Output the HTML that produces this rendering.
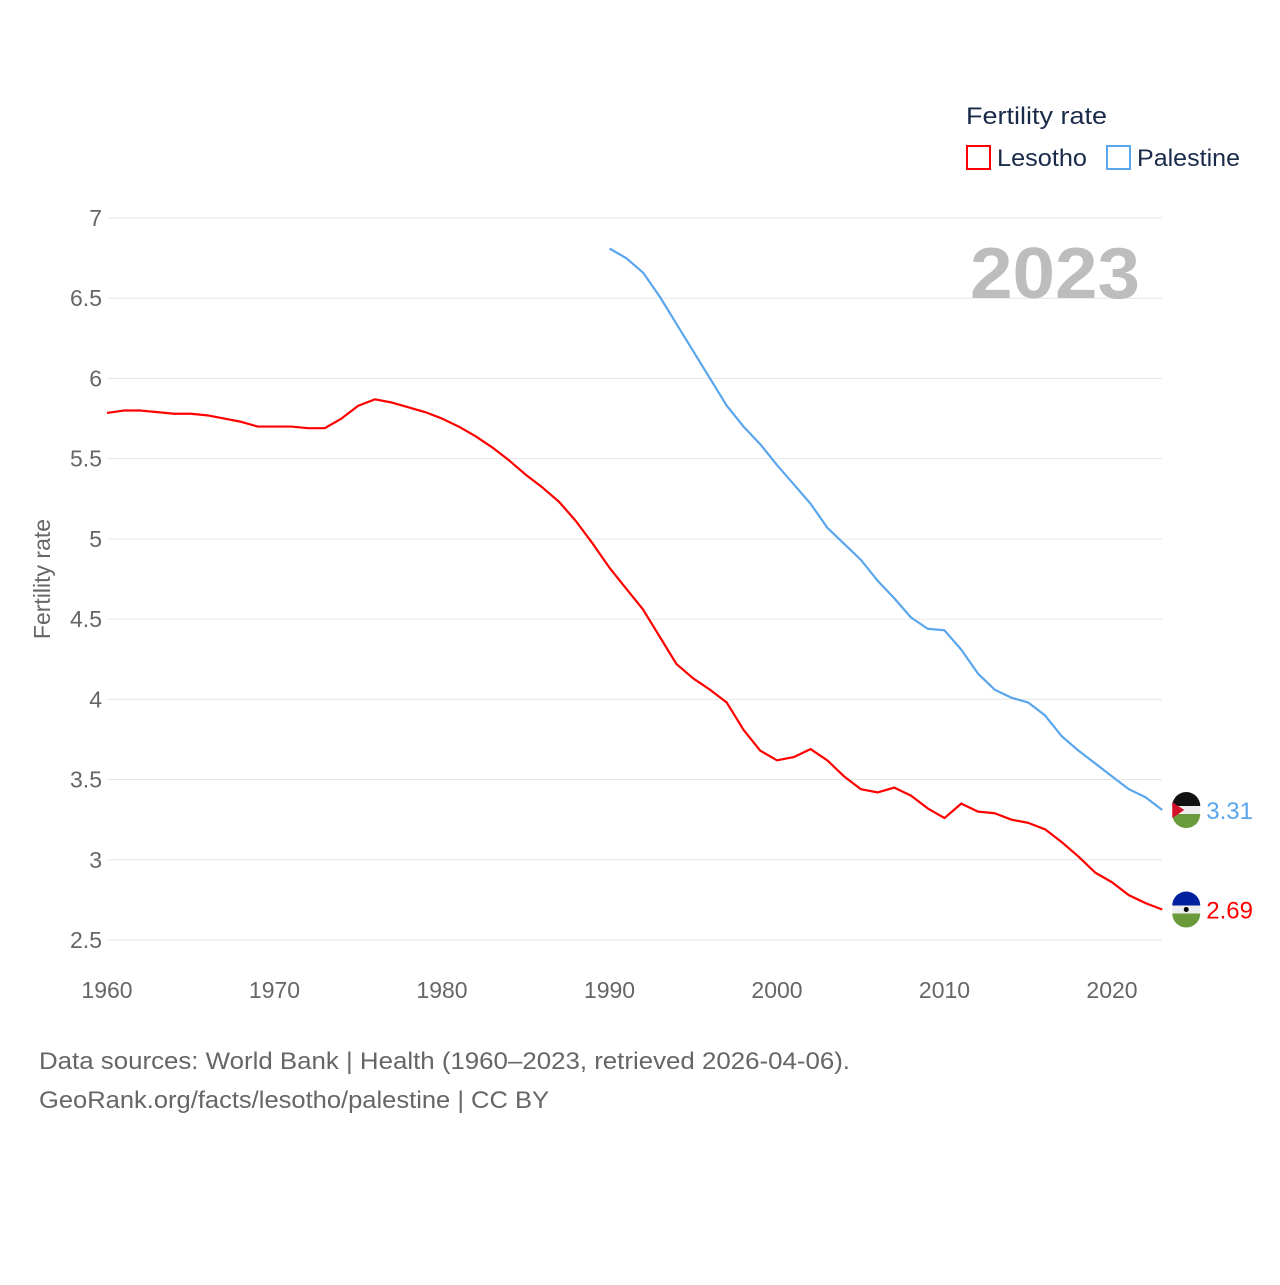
<!DOCTYPE html>
<html><head><meta charset="utf-8"><style>
body{margin:0;background:#fff;}
svg text{font-family:"Liberation Sans",sans-serif;}
</style></head><body>
<svg id="chart" width="1280" height="1280" xmlns="http://www.w3.org/2000/svg">
<rect width="1280" height="1280" fill="#fff"/>
<g id="grid"></g>
<g id="yticks"></g>
<g id="xticks"></g>
<text x="970" y="298" font-size="72" font-weight="bold" fill="#bdbdbd" textLength="170" lengthAdjust="spacingAndGlyphs">2023</text>
<text transform="translate(50,579) rotate(-90)" text-anchor="middle" font-size="23" fill="#666">Fertility rate</text>
<g id="series"></g>
<text x="966" y="124" font-size="24" fill="#1a2b4a" textLength="141" lengthAdjust="spacingAndGlyphs">Fertility rate</text>
<g><rect x="967" y="146" width="23" height="23" fill="none" stroke="#f00" stroke-width="2"/><text x="997" y="166" font-size="24" fill="#1a2b4a" textLength="90" lengthAdjust="spacingAndGlyphs">Lesotho</text></g>
<g><rect x="1107" y="146" width="23" height="23" fill="none" stroke="#5aa6ec" stroke-width="2"/><text x="1137" y="166" font-size="24" fill="#1a2b4a" textLength="103" lengthAdjust="spacingAndGlyphs">Palestine</text></g>
<text x="39" y="1069" font-size="24" fill="#666" textLength="811" lengthAdjust="spacingAndGlyphs">Data sources: World Bank | Health (1960–2023, retrieved 2026-04-06).</text>
<text x="39" y="1108" font-size="24" fill="#666" textLength="510" lengthAdjust="spacingAndGlyphs">GeoRank.org/facts/lesotho/palestine | CC BY</text>
</svg>
<script>
const yTicks=[2.5,3,3.5,4,4.5,5,5.5,6,6.5,7];
const xTicks=[1960,1970,1980,1990,2000,2010,2020];
const lesothoYears=[];for(let y=1960;y<=2023;y++)lesothoYears.push(y);
const lesothoValues=[5.785,5.80,5.80,5.79,5.78,5.78,5.77,5.75,5.73,5.70,5.70,5.70,5.69,5.69,5.75,5.83,5.87,5.85,5.82,5.79,5.75,5.70,5.64,5.57,5.49,5.40,5.32,5.23,5.11,4.97,4.82,4.69,4.56,4.39,4.22,4.13,4.06,3.98,3.81,3.68,3.62,3.64,3.69,3.62,3.52,3.44,3.42,3.45,3.40,3.32,3.26,3.35,3.30,3.29,3.25,3.23,3.19,3.11,3.02,2.92,2.86,2.78,2.73,2.69];
const palestineYears=[];for(let y=1990;y<=2023;y++)palestineYears.push(y);
const palestineValues=[6.81,6.75,6.66,6.51,6.34,6.17,6.00,5.83,5.70,5.59,5.46,5.34,5.22,5.07,4.97,4.87,4.74,4.63,4.51,4.44,4.43,4.31,4.16,4.06,4.01,3.98,3.90,3.77,3.68,3.60,3.52,3.44,3.39,3.31];
const X=v=>107+(v-1960)*(1112-107)/60;
const Y=v=>218+(7-v)*(940-218)/4.5;
const NS="http://www.w3.org/2000/svg";
function mk(t,a,p){const e=document.createElementNS(NS,t);for(const k in a)e.setAttribute(k,a[k]);p.appendChild(e);return e;}
const grid=document.getElementById('grid'),yt=document.getElementById('yticks'),xt=document.getElementById('xticks'),ser=document.getElementById('series');
yTicks.forEach(v=>{
 const l=mk('line',{x1:107,x2:1162,y1:Y(v),y2:Y(v),stroke:'#e6e6e6','stroke-width':1},grid);
 
 
 const t=mk('text',{x:102,y:Y(v)+8,'text-anchor':'end','font-size':23,fill:'#666'},yt);t.textContent=v;
 
 
});
xTicks.forEach(v=>{
 const t=mk('text',{x:X(v),y:998,'text-anchor':'middle','font-size':23,fill:'#666'},xt);t.textContent=v;
 
 
});
function line(xs,vs,c,name){
 const p=mk('polyline',{points:xs.map((x,i)=>X(x)+','+Y(vs[i])).join(' '),fill:'none',stroke:c,'stroke-width':2.2,'stroke-linejoin':'round'},ser);
 
 
 const lx=X(xs[xs.length-1]),ly=Y(vs[vs.length-1]);
 const g=mk('g',{},ser);
 
 
 mk('circle',{cx:lx+24,cy:ly,r:14,fill:'#eee'},g);
 const t=mk('text',{x:lx+44,y:ly+9,'font-size':24,fill:c},g);t.textContent=vs[vs.length-1].toFixed(2);
 return g;
}
const lg=line(lesothoYears,lesothoValues,'#f00','lesotho-line');
const pg=line(palestineYears,palestineValues,'#5aa6ec','palestine-line');
(function(){const lx=X(2023)+24,ly=Y(2.69);
mk('path',{d:`M${lx-14},${ly-4} A14,14 0 0 1 ${lx+14},${ly-4} Z`,fill:'#00209f'},lg);
mk('path',{d:`M${lx-14},${ly+4} A14,14 0 0 0 ${lx+14},${ly+4} Z`,fill:'#6a9a3c'},lg);
mk('circle',{cx:lx,cy:ly,r:2.5,fill:'#000'},lg);
const px=X(2023)+24,py=Y(3.31);
mk('path',{d:`M${px-14},${py-4} A14,14 0 0 1 ${px+14},${py-4} Z`,fill:'#111'},pg);
mk('path',{d:`M${px-14},${py+4} A14,14 0 0 0 ${px+14},${py+4} Z`,fill:'#6a9a3c'},pg);
mk('path',{d:`M${px-14},${py-8} L${px-2},${py} L${px-14},${py+8} Z`,fill:'#d2102a'},pg);})();
</script>
</body></html>
